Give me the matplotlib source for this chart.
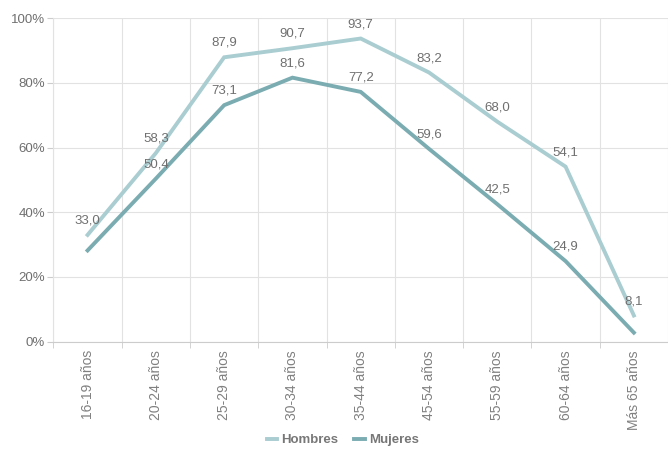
import matplotlib
matplotlib.use("Agg")
import matplotlib.pyplot as plt
from matplotlib.ticker import FuncFormatter

# datos
categorias = ["16-19 años", "20-24 años", "25-29 años", "30-34 años", "35-44 años",
              "45-54 años", "55-59 años", "60-64 años", "Más 65 años"]
hombres = [33.0, 58.3, 87.9, 90.7, 93.7, 83.2, 68.0, 54.1, 8.1]
mujeres = [28.2, 50.4, 73.1, 81.6, 77.2, 59.6, 42.5, 24.9, 2.8]
# etiquetas que aparecen en el grafico (None = sin etiqueta)
etiq_hombres = ["33,0", "58,3", "87,9", "90,7", "93,7", "83,2", "68,0", "54,1", "8,1"]
etiq_mujeres = [None, "50,4", "73,1", "81,6", "77,2", "59,6", "42,5", "24,9", None]

plt.rcParams['font.family'] = ['Liberation Sans', 'DejaVu Sans']

col_h = "#a9cdd1"
col_m = "#7aacb2"
gris = "#6f6f6f"

fig = plt.figure(figsize=(6.68, 4.5), dpi=100)
ax = fig.add_axes([0.080, 0.2407, 0.92, 0.719])

x = list(range(len(categorias)))
ax.plot(x, hombres, color=col_h, lw=2.8, solid_joinstyle="miter", label="Hombres", zorder=3)
ax.plot(x, mujeres, color=col_m, lw=2.8, solid_joinstyle="miter", label="Mujeres", zorder=3)

for i in x:
    if etiq_hombres[i]:
        ax.annotate(etiq_hombres[i], (i, hombres[i]), xytext=(0, 6), textcoords="offset points",
                    ha="center", va="bottom", fontsize=9.5, color=gris, zorder=4)
    if etiq_mujeres[i]:
        ax.annotate(etiq_mujeres[i], (i, mujeres[i]), xytext=(0, 6), textcoords="offset points",
                    ha="center", va="bottom", fontsize=9.5, color=gris, zorder=4)

ax.set_xlim(-0.5, 8.29)
ax.set_ylim(0, 100)
ax.set_yticks([0, 20, 40, 60, 80, 100])
ax.yaxis.set_major_formatter(FuncFormatter(lambda v, p: "%d%%" % v))
ax.set_xticks(x)
ax.set_xticklabels(categorias, rotation=90, fontsize=10, color="#808080")
ax.tick_params(axis="x", length=0, pad=6)
ax.tick_params(axis="y", labelsize=9.5, labelcolor=gris, length=4, color="#cccccc", pad=2)

# rejilla
ax.set_xticks([i + 0.5 for i in range(-1, 9)], minor=True)
ax.tick_params(axis="x", which="minor", length=4, color="#cccccc")
ax.grid(axis="y", color="#e2e2e2", lw=0.8)
ax.grid(axis="x", which="minor", color="#e2e2e2", lw=0.8)
for s in ["top", "right"]:
    ax.spines[s].set_visible(False)
ax.spines["left"].set_color("#e2e2e2")
ax.spines["bottom"].set_color("#cccccc")

leg = fig.legend(loc="lower center", bbox_to_anchor=(0.513, -0.018), ncol=2, frameon=False,
                 handlelength=0.8, handletextpad=0.3, columnspacing=1.2,
                 prop={"size": 9.5, "weight": "bold"})
for t in leg.get_texts():
    t.set_color("#777777")

fig.savefig("out.png", dpi=100)
